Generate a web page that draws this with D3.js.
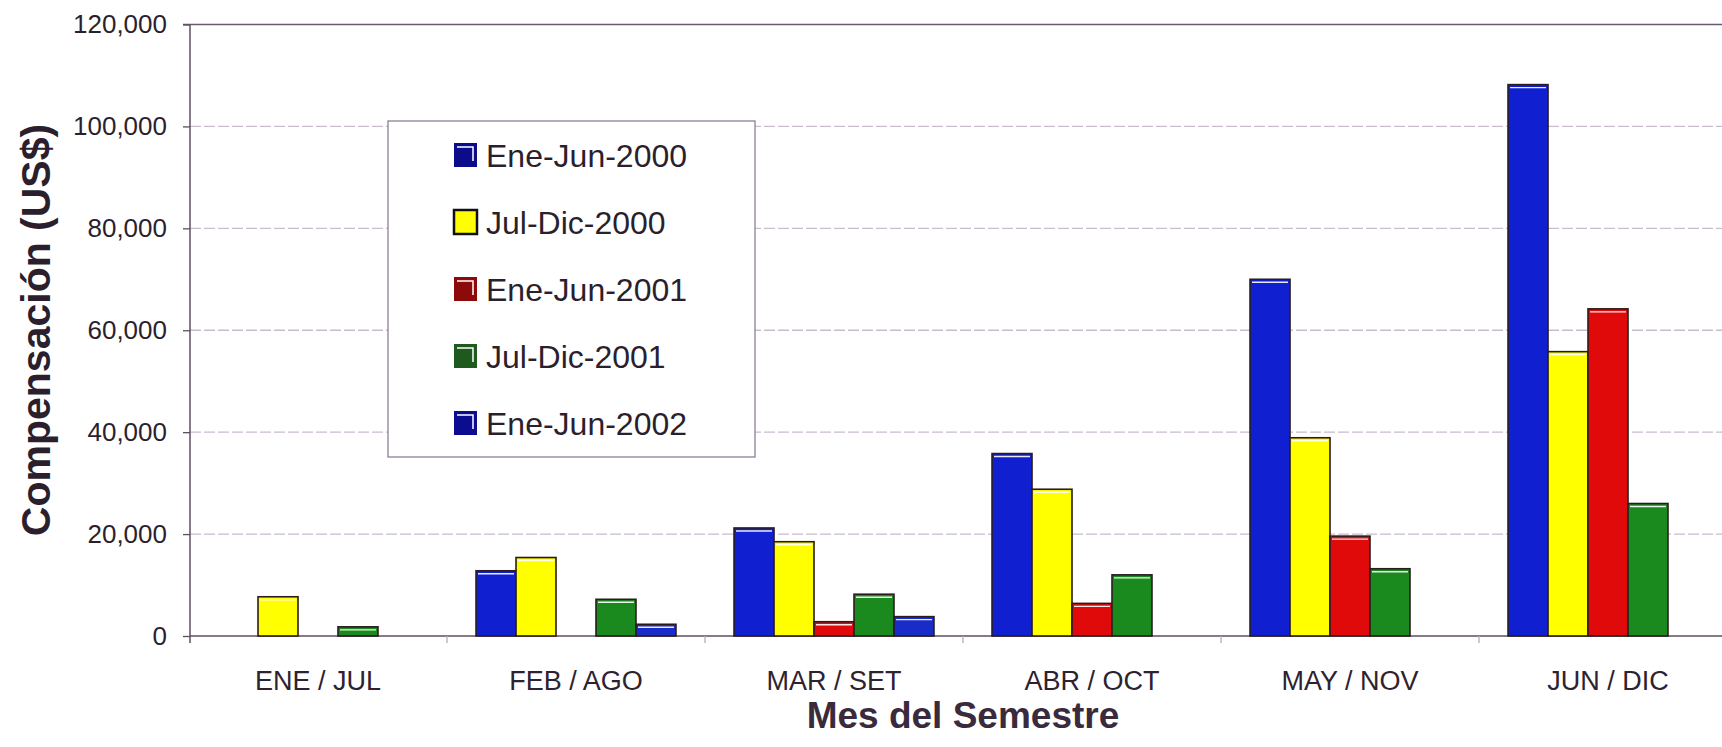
<!DOCTYPE html>

<head>
    <script src='https://cdnjs.cloudflare.com/ajax/libs/d3/7.8.5/d3.min.js'></script>
    <style>
        body { margin: 0; background: #ffffff; }
        text { font-family: 'Liberation Sans', Arial, sans-serif; fill: #2b1f2d; }
    </style>
</head>
<html>

<body>
</body>

</html>
<script>

    // meses del semestre (eje x)
    var meses = ['ENE / JUL', 'FEB / AGO', 'MAR / SET', 'ABR / OCT', 'MAY / NOV', 'JUN / DIC']
    var periodos = ['Ene-Jun-2000', 'Jul-Dic-2000', 'Ene-Jun-2001', 'Jul-Dic-2001', 'Ene-Jun-2002']

    // compensacion en US$ por periodo
    var ene_jun_2000 = [0, 12800, 21200, 35800, 70000, 108200]
    var jul_dic_2000 = [7700, 15400, 18500, 28800, 38900, 55800]
    var ene_jun_2001 = [0, 0, 2800, 6400, 19600, 64200]
    var jul_dic_2001 = [1800, 7200, 8200, 12000, 13200, 26000]
    var ene_jun_2002 = [0, 2300, 3800, 0, 0, 0]

    var y_ticks = [0, 20000, 40000, 60000, 80000, 100000, 120000]

    var series = [ene_jun_2000, jul_dic_2000, ene_jun_2001, jul_dic_2001, ene_jun_2002]
    var colores = ['#1020d0', '#ffff00', '#e10a0a', '#1a8a1e', '#1a2cc8']
    var colores_leyenda = ['#0c0c8a', '#ffff00', '#8c0a0a', '#1e5a1e', '#0c0c90']

    var width = 1722,
        height = 747;

    var svg = d3.select("body").
    append("svg").
    attr("width", width).
    attr("height", height);

    var x0 = d3.scaleBand().
    domain(meses).
    range([189, 1737]).
    paddingInner(0.225).
    paddingOuter(0.1125);

    var x1 = d3.scaleBand().
    domain(periodos).
    range([0, x0.bandwidth()]);

    var y = d3.scaleLinear().
    domain([0, 120000]).
    range([636, 24.5]);

    // ### GRID
    svg.append("g").
    selectAll("line.grid").
    data(y_ticks.filter(function(d) {
        return d > 0 && d < 120000
    })).
    enter().
    append("line").
    attr("class", "grid").
    attr("x1", 190).
    attr("x2", width).
    attr("y1", function(d) {
        return y(d);
    }).
    attr("y2", function(d) {
        return y(d);
    }).
    attr("stroke", "#c9bccd").
    attr("stroke-width", 1.3).
    attr("stroke-dasharray", "11,3");

    // linea superior
    svg.append("line").
    attr("x1", 183).
    attr("x2", width).
    attr("y1", y(120000)).
    attr("y2", y(120000)).
    attr("stroke", "#6a5a70").
    attr("stroke-width", 1.5);

    // linea base
    svg.append("line").
    attr("x1", 190).
    attr("x2", width).
    attr("y1", y(0)).
    attr("y2", y(0)).
    attr("stroke", "#5e4e62").
    attr("stroke-width", 1.6);

    // ticks de categoria bajo la linea base
    svg.append("g").
    selectAll("line.cat").
    data(d3.range(1, meses.length)).
    enter().
    append("line").
    attr("class", "cat").
    attr("x1", function(d) {
        return x0.range()[0] + d * x0.step();
    }).
    attr("x2", function(d) {
        return x0.range()[0] + d * x0.step();
    }).
    attr("y1", y(0)).
    attr("y2", y(0) + 7).
    attr("stroke", "#b8a8bc").
    attr("stroke-width", 1.3);

    // ### BARS
    var grupo = svg.append("g").
    selectAll("g.mes").
    data(meses).
    enter().
    append("g").
    attr("class", "mes").
    attr("transform", function(d) {
        return "translate(" + x0(d) + ",0)";
    });

    var barra = grupo.selectAll("g.barra").
    data(function(m, i) {
        return periodos.map(function(p, j) {
            return {
                periodo: p,
                j: j,
                valor: series[j][i]
            }
        }).filter(function(d) {
            return d.valor > 0
        });
    }).
    enter().
    append("g").
    attr("class", "barra");

    barra.append("rect").
    attr("x", function(d) {
        return x1(d.periodo);
    }).
    attr("y", function(d) {
        return y(d.valor);
    }).
    attr("width", x1.bandwidth()).
    attr("height", function(d) {
        return y(0) - y(d.valor);
    }).
    attr("fill", function(d) {
        return colores[d.j];
    }).
    attr("stroke", "#2a1c1e").
    attr("stroke-width", 1.6);

    // brillo blanco bajo el borde superior
    barra.append("line").
    attr("x1", function(d) {
        return x1(d.periodo) + 2;
    }).
    attr("x2", function(d) {
        return x1(d.periodo) + x1.bandwidth() - 2;
    }).
    attr("y1", function(d) {
        return y(d.valor) + 3;
    }).
    attr("y2", function(d) {
        return y(d.valor) + 3;
    }).
    attr("stroke", "#ffffff").
    attr("stroke-width", 1.4).
    attr("opacity", function(d) {
        return y(0) - y(d.valor) > 6 ? 0.9 : 0
    });

    // ### AXES
    var eje_y = svg.append("g").
    attr("transform", "translate(190,0)").
    call(d3.axisLeft(y).
        tickValues(y_ticks).
        tickSize(7).
        tickPadding(16).
        tickFormat(d3.format(",")));
    eje_y.select(".domain").
    attr("stroke", "#5e4e62").
    attr("stroke-width", 1.5).
    attr("d", "M0," + (y(120000)) + "V" + (y(0) + 7));
    eje_y.selectAll(".tick line").
    attr("stroke", "#5e4e62").
    attr("stroke-width", 1.3);
    eje_y.selectAll(".tick text").
    style("font-size", "26px").
    style("fill", "#2b1f2d");

    var eje_x = svg.append("g").
    attr("transform", "translate(0," + y(0) + ")").
    call(d3.axisBottom(x0).
        tickSize(0).
        tickPadding(35));
    eje_x.select(".domain").remove();
    eje_x.selectAll(".tick text").
    style("font-size", "27px").
    style("fill", "#2e2230");

    // ### TITLES
    svg.append("text").
    attr("x", 963).
    attr("y", 728).
    attr("text-anchor", "middle").
    style("font-size", "37px").
    style("font-weight", "bold").
    style("fill", "#3a2b3c").
    text("Mes del Semestre");

    svg.append("text").
    attr("transform", "translate(50,330) rotate(-90)").
    attr("text-anchor", "middle").
    style("font-size", "41px").
    style("font-weight", "bold").
    style("fill", "#2b1f2d").
    text("Compensación (US$)");

    // ### LEGEND
    var leyenda = svg.append("g").
    attr("transform", "translate(388,121)");

    leyenda.append("rect").
    attr("width", 367).
    attr("height", 336).
    attr("fill", "#ffffff").
    attr("stroke", "#8f7f95").
    attr("stroke-width", 1.3);

    var item = leyenda.selectAll("g.item").
    data(periodos).
    enter().
    append("g").
    attr("class", "item").
    attr("transform", function(d, i) {
        return "translate(66," + (46 + i * 67) + ")";
    });

    item.append("rect").
    attr("width", 23).
    attr("height", 24).
    attr("y", -24).
    attr("fill", function(d, i) {
        return colores_leyenda[i];
    }).
    attr("stroke", function(d, i) {
        return i == 1 ? "#111111" : "none"
    }).
    attr("stroke-width", 2.5);

    item.filter(function(d, i) {
        return i != 1
    }).
    append("path").
    attr("d", "M3,-20H19V-6").
    attr("fill", "none").
    attr("stroke", "#ffffff").
    attr("stroke-width", 1.5);

    item.append("text").
    attr("x", 32).
    attr("y", 0).
    style("font-size", "32px").
    style("fill", "#2b1f2d").
    text(function(d) {
        return d;
    });
</script>
